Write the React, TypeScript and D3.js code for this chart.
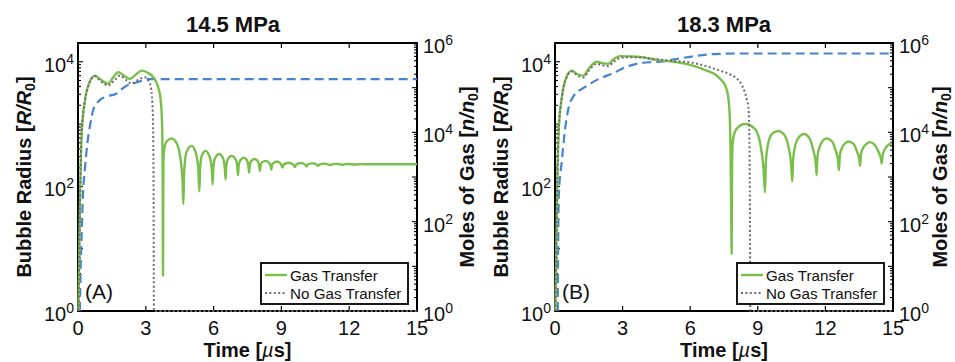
import React, { useEffect, useRef } from 'react';
import * as d3 from 'd3';

type Pt = [number, number];

const timeTicks = [0, 3, 6, 9, 12, 15];
const radiusTicks = [1, 1e2, 1e4];
const molesTicks = [1, 1e2, 1e4, 1e6];
const titles = ['14.5 MPa', '18.3 MPa'];
const panelTags = ['(A)', '(B)'];
const legendLabels = ['Gas Transfer', 'No Gas Transfer'];

// 14.5 MPa: bubble radius R/R0 vs time (us)
const gasTransferA: Pt[] = [
  [0.02, 1], [0.09, 58], [0.16, 690], [0.31, 2400], [0.5, 4600], [0.75, 6000],
  [1.0, 5200], [1.34, 4450], [1.55, 5600], [1.78, 6800], [2.0, 6100], [2.3, 5300],
  [2.55, 6200], [2.82, 7200], [3.05, 6800], [3.33, 5650], [3.55, 3900], [3.66, 2400],
  [3.72, 1000], [3.75, 100], [3.76, 3.7],
  [3.78, 250], [3.82, 400], [3.92, 525], [4.14, 590], [4.38, 480], [4.55, 250], [4.63, 112], [4.66, 52],
  [4.7, 178], [4.8, 355], [5.03, 447], [5.2, 355], [5.32, 200], [5.37, 83],
  [5.4, 186], [5.47, 302], [5.64, 372], [5.82, 302], [5.92, 190], [5.96, 107],
  [5.99, 200], [6.06, 282], [6.26, 331], [6.43, 275], [6.5, 186], [6.53, 129],
  [6.56, 209], [6.63, 275], [6.8, 309], [6.98, 269], [7.05, 200], [7.08, 151],
  [7.11, 214], [7.18, 263], [7.33, 288], [7.48, 263], [7.54, 209], [7.57, 166],
  [7.6, 219], [7.67, 257], [7.82, 275], [7.96, 251], [8.02, 209], [8.05, 178],
  [8.08, 219], [8.15, 245], [8.3, 257], [8.45, 240], [8.52, 214], [8.55, 186],
  [8.6, 229], [8.8, 251], [8.98, 229], [9.05, 200],
  [9.1, 224], [9.32, 240], [9.52, 224], [9.6, 204],
  [9.65, 224], [9.86, 237], [10.05, 224], [10.12, 209],
  [10.17, 224], [10.36, 234], [10.56, 224], [10.63, 214],
  [10.68, 224], [10.9, 232], [11.1, 224], [11.17, 219],
  [11.22, 225], [11.42, 230], [11.63, 225], [11.7, 221],
  [11.76, 226], [11.95, 229], [12.25, 224], [12.5, 228], [13.0, 226], [15, 226],
];

const noGasTransferA: Pt[] = [
  [0.02, 1], [0.09, 58], [0.16, 690], [0.31, 2400], [0.5, 4500], [0.75, 5900],
  [1.0, 4900], [1.34, 4150], [1.6, 5000], [1.86, 6000], [2.1, 5200], [2.37, 4450],
  [2.65, 5100], [2.96, 5650], [3.12, 5000], [3.24, 3600], [3.31, 1500], [3.34, 200],
  [3.36, 1], [15, 1],
];

// 14.5 MPa: moles of gas n/n0 (right axis)
const molesA: Pt[] = [
  [0.08, 1], [0.12, 10], [0.16, 50], [0.22, 400], [0.31, 1600], [0.42, 6000],
  [0.53, 14000], [0.7, 35000], [0.9, 49000], [1.2, 62000], [1.71, 74000],
  [1.9, 90000], [2.08, 105000], [2.45, 126000], [2.67, 135000], [3.0, 155000], [15, 155000],
];

// 18.3 MPa
const gasTransferB: Pt[] = [
  [0.02, 1], [0.09, 60], [0.16, 750], [0.31, 2800], [0.5, 5600], [0.74, 7200],
  [1.0, 6300], [1.26, 6000], [1.5, 7800], [1.85, 10000], [2.1, 9500], [2.37, 9300],
  [2.6, 11000], [2.89, 12300], [3.3, 12200], [3.77, 12000], [4.5, 10700], [5.25, 10000],
  [6.0, 8900], [6.73, 7200], [7.18, 6000], [7.4, 5000], [7.55, 4200], [7.68, 2800],
  [7.74, 1700], [7.79, 400], [7.82, 40], [7.84, 8.3],
  [7.86, 250], [7.9, 560], [8.05, 830], [8.43, 1000], [8.88, 830], [9.1, 500], [9.25, 200], [9.32, 80],
  [9.36, 251], [9.48, 525], [9.65, 708], [9.91, 776], [10.15, 692], [10.35, 447], [10.48, 224], [10.53, 120],
  [10.57, 282], [10.68, 479], [10.85, 631], [11.05, 692], [11.28, 603], [11.45, 398], [11.57, 240], [11.61, 151],
  [11.65, 302], [11.76, 447], [11.9, 550], [12.06, 589], [12.3, 525], [12.45, 380], [12.56, 263], [12.6, 182],
  [12.64, 316], [12.75, 427], [12.88, 490], [13.02, 525], [13.25, 479], [13.4, 363], [13.5, 275], [13.54, 214],
  [13.58, 331], [13.68, 417], [13.82, 479], [13.98, 513], [14.2, 457], [14.35, 363], [14.46, 282], [14.5, 234],
  [14.55, 331], [14.7, 427], [14.95, 501],
];

const noGasTransferB: Pt[] = [
  [0.02, 1], [0.09, 60], [0.16, 750], [0.31, 2800], [0.5, 5500], [0.74, 7000],
  [1.0, 6000], [1.26, 5600], [1.5, 7200], [1.85, 9300], [2.1, 8800], [2.37, 8500],
  [2.6, 10000], [2.89, 11500], [3.3, 11800], [3.77, 11700], [4.5, 11000], [5.25, 10300],
  [6.0, 9800], [6.7, 8500], [7.32, 7200], [7.75, 6300], [8.06, 5400], [8.3, 4200],
  [8.43, 3200], [8.52, 2400], [8.58, 1900], [8.62, 800], [8.65, 50], [8.67, 1], [15, 1],
];

const molesB: Pt[] = [
  [0.12, 1], [0.14, 30], [0.17, 400], [0.3, 2200], [0.44, 11000], [0.6, 35000],
  [0.81, 63000], [1.05, 85000], [1.26, 98000], [1.7, 135000], [2.1, 170000],
  [2.59, 210000], [3.0, 270000], [3.4, 320000], [3.77, 355000], [4.4, 375000],
  [4.8, 385000], [5.25, 427000], [6.0, 490000], [6.73, 550000], [7.5, 575000],
  [8.2, 582000], [15, 582000],
];

const GREEN = '#79bf4a';
const BLUE = '#4683d0';
const GRAY = '#6e6e6e';
const FONT = '"Liberation Sans", Arial, Helvetica, sans-serif';

const App: React.FC = () => {
  const svgRef = useRef<SVGSVGElement>(null);
  const width = 955;
  const height = 362;

  useEffect(() => {
    if (!svgRef.current) return;
    const svg = d3.select(svgRef.current);
    svg.selectAll('*').remove();
    svg.style('font-family', FONT);

    const top = 43;
    const bottom = 311;

    const panels = [
      { x0: 78, x1: 417, titleX: 233, leftLabelX: 31, rightLabelX: 474,
        gas: gasTransferA, noGas: noGasTransferA, moles: molesA },
      { x0: 555, x1: 893, titleX: 724, leftLabelX: 508, rightLabelX: 947,
        gas: gasTransferB, noGas: noGasTransferB, moles: molesB },
    ];

    const supLabel = (t: d3.Selection<SVGTextElement, unknown, null, undefined>, v: number) => {
      t.append('tspan').text('10');
      t.append('tspan').attr('dy', -8).attr('font-size', 14).text(String(Math.round(Math.log10(v))));
    };

    panels.forEach((p, i) => {
      const x = d3.scaleLinear().domain([0, 15]).range([p.x0, p.x1]);
      const yL = d3.scaleLog().domain([1, 2e4]).range([bottom, top]);
      const yR = d3.scaleLog().domain([1, 1e6]).range([bottom, top]);
      const g = svg.append('g');

      // Box
      g.append('rect')
        .attr('x', p.x0).attr('y', top)
        .attr('width', p.x1 - p.x0).attr('height', bottom - top)
        .attr('fill', 'white').attr('stroke', '#000').attr('stroke-width', 2);

      // X ticks (bottom and top, inward)
      timeTicks.forEach(t => {
        g.append('line').attr('x1', x(t)).attr('x2', x(t)).attr('y1', bottom).attr('y2', bottom - 5)
          .attr('stroke', '#000').attr('stroke-width', 1.2);
        g.append('line').attr('x1', x(t)).attr('x2', x(t)).attr('y1', top).attr('y2', top + 5)
          .attr('stroke', '#000').attr('stroke-width', 1.2);
        g.append('text').attr('x', x(t)).attr('y', 335)
          .attr('text-anchor', 'middle').attr('font-size', 20).attr('fill', '#111').text(String(t));
      });

      // Left log ticks
      yL.ticks().forEach(v => {
        const major = Math.abs(Math.log10(v) - Math.round(Math.log10(v))) < 1e-9;
        g.append('line').attr('x1', p.x0).attr('x2', p.x0 + (major ? 5 : 3))
          .attr('y1', yL(v)).attr('y2', yL(v)).attr('stroke', '#000').attr('stroke-width', 1.1);
      });
      radiusTicks.forEach(v => {
        const t = g.append('text').attr('x', p.x0 - 4).attr('y', yL(v) + 10)
          .attr('text-anchor', 'end').attr('font-size', 20).attr('fill', '#111');
        supLabel(t, v);
      });

      // Right log ticks
      yR.ticks().forEach(v => {
        const major = Math.abs(Math.log10(v) - Math.round(Math.log10(v))) < 1e-9;
        g.append('line').attr('x1', p.x1).attr('x2', p.x1 - (major ? 5 : 3))
          .attr('y1', yR(v)).attr('y2', yR(v)).attr('stroke', '#000').attr('stroke-width', 1.1);
      });
      molesTicks.forEach(v => {
        const t = g.append('text').attr('x', p.x1 + 6).attr('y', yR(v) + 10)
          .attr('text-anchor', 'start').attr('font-size', 20).attr('fill', '#111');
        supLabel(t, v);
      });

      // Data lines
      const lineL = d3.line<Pt>().x(d => x(d[0])).y(d => yL(d[1])).curve(d3.curveMonotoneX);
      const lineR = d3.line<Pt>().x(d => x(d[0])).y(d => yR(d[1])).curve(d3.curveMonotoneX);

      g.append('path').datum(p.moles).attr('d', lineR).attr('fill', 'none')
        .attr('stroke', BLUE).attr('stroke-width', 2.2).attr('stroke-dasharray', '9,5');
      g.append('path').datum(p.gas).attr('d', lineL).attr('fill', 'none')
        .attr('stroke', GREEN).attr('stroke-width', 2.4).attr('stroke-linejoin', 'round');
      g.append('path').datum(p.noGas).attr('d', lineL).attr('fill', 'none')
        .attr('stroke', GRAY).attr('stroke-width', 2).attr('stroke-dasharray', '2,2.4');

      // Title
      g.append('text').attr('x', p.titleX).attr('y', 32).attr('text-anchor', 'middle')
        .attr('font-size', 22).attr('font-weight', 'bold').attr('fill', '#111').text(titles[i]);

      // X label
      const xl = g.append('text').attr('x', (p.x0 + p.x1) / 2).attr('y', 357)
        .attr('text-anchor', 'middle').attr('font-size', 20).attr('font-weight', 'bold').attr('fill', '#111');
      xl.append('tspan').text('Time [');
      xl.append('tspan').attr('font-style', 'italic').attr('font-weight', 'normal').text('\u00b5');
      xl.append('tspan').text('s]');

      // Left Y label
      const yl = g.append('text')
        .attr('transform', `translate(${p.leftLabelX},${(top + bottom) / 2}) rotate(-90)`)
        .attr('text-anchor', 'middle').attr('font-size', 20).attr('font-weight', 'bold').attr('fill', '#111');
      yl.append('tspan').text('Bubble Radius [');
      yl.append('tspan').attr('font-style', 'italic').text('R/R');
      yl.append('tspan').attr('font-size', 14).attr('dy', 4).text('0');
      yl.append('tspan').attr('dy', -4).text(']');

      // Right Y label
      const yr = g.append('text')
        .attr('transform', `translate(${p.rightLabelX},${(top + bottom) / 2}) rotate(-90)`)
        .attr('text-anchor', 'middle').attr('font-size', 20).attr('font-weight', 'bold').attr('fill', '#111');
      yr.append('tspan').text('Moles of Gas [');
      yr.append('tspan').attr('font-style', 'italic').text('n/n');
      yr.append('tspan').attr('font-size', 14).attr('dy', 4).text('0');
      yr.append('tspan').attr('dy', -4).text(']');

      // Panel tag
      g.append('text').attr('x', p.x0 + 7).attr('y', 299).attr('font-size', 21).attr('fill', '#111')
        .text(panelTags[i]);

      // Legend
      const lw = 147, lh = 41;
      const lx = p.x1 - 9 - lw;
      const ly = bottom - 7 - lh;
      const leg = g.append('g').attr('transform', `translate(${lx},${ly})`);
      leg.append('rect').attr('width', lw).attr('height', lh).attr('fill', 'white')
        .attr('stroke', '#000').attr('stroke-width', 1.8);
      const styles = [
        { stroke: GREEN, dash: null as string | null, w: 2.4 },
        { stroke: GRAY, dash: '2,2.4', w: 2 },
      ];
      legendLabels.forEach((lab, k) => {
        const cy = 12 + k * 18;
        const ln = leg.append('line').attr('x1', 4).attr('x2', 26).attr('y1', cy).attr('y2', cy)
          .attr('stroke', styles[k].stroke).attr('stroke-width', styles[k].w);
        if (styles[k].dash) ln.attr('stroke-dasharray', styles[k].dash);
        leg.append('text').attr('x', 29).attr('y', cy + 5.5).attr('font-size', 15.2).attr('fill', '#111').text(lab);
      });
    });
  }, []);

  return (
    <svg ref={svgRef} width={width} height={height}
      style={{ position: 'absolute', left: 0, top: 0, background: 'white' }} />
  );
};

export default App;
